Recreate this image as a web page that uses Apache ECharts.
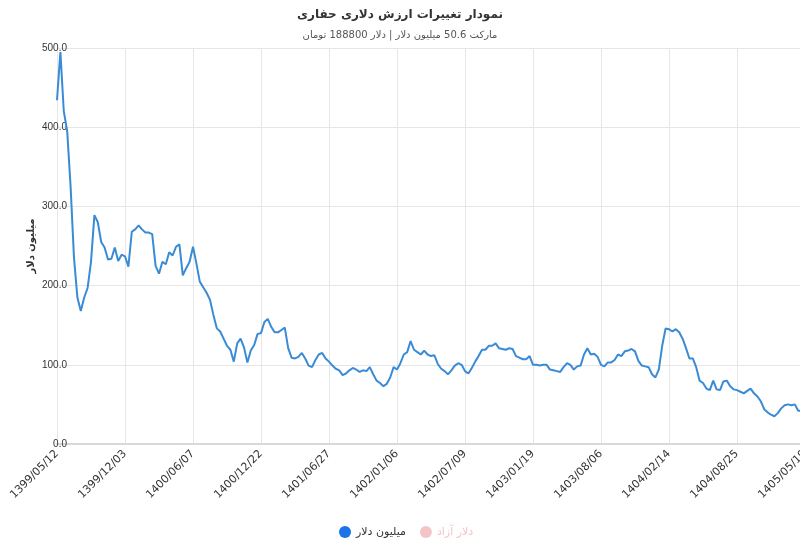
<!DOCTYPE html>
<html lang="fa">
<head>
    <meta charset="UTF-8">
    <title>نمودار تغییرات ارزش دلاری حفاری</title>
    <script src="https://cdn.jsdelivr.net/npm/echarts@6.0.0/dist/echarts.min.js"></script>
    <style>
        html, body { margin: 0; padding: 0; background: #fff; }
        #chart { width: 800px; height: 538px; }
    </style>
</head>
<body>
    <div id="chart"></div>
    <script>
        // برچسب‌های محور افقی (هر ۲۰ نقطه یک برچسب)
        const tickLabels = ['1399/05/12', '1399/12/03', '1400/06/07', '1400/12/22', '1401/06/27',
            '1402/01/06', '1402/07/09', '1403/01/19', '1403/08/06', '1404/02/14', '1404/08/25', '1405/05/19'];
        const pointsPerTick = 20;

        // ارزش دلاری (میلیون دلار)
        const dollarValue = [
            434, 495, 420, 395, 325, 235, 185, 168, 185, 197,
            230, 289, 280, 255, 248, 233, 234, 248, 231, 239,
            237, 224, 268, 271, 276, 271, 267, 267, 265, 225,
            215, 230, 227, 242, 238, 249, 252, 213, 222, 230,
            249, 228, 205, 198, 191, 182, 163, 146, 142, 133,
            124, 119, 104, 127, 133, 122, 103, 118, 125, 139,
            140, 154, 158, 148, 141, 141, 144, 147, 121, 109,
            108, 110, 115, 108, 99, 97, 106, 113, 115, 108,
            104, 99, 95, 93, 87, 89, 93, 96, 94, 91,
            93, 92, 97, 88, 80, 77, 73, 76, 84, 97,
            94, 102, 113, 116, 130, 119, 116, 113, 118, 113,
            111, 112, 101, 95, 92, 88, 93, 99, 102, 100,
            92, 89, 96, 104, 111, 119, 119, 124, 124, 127,
            121, 120, 119, 121, 120, 111, 109, 107, 107, 111,
            100, 100, 99, 100, 100, 94, 93, 92, 91, 97,
            102, 100, 94, 98, 99, 113, 121, 113, 114, 110,
            100, 98, 103, 103, 106, 113, 111, 117, 118, 120,
            117, 105, 99, 98, 97, 88, 84, 94, 124, 146,
            145, 142, 145, 141, 133, 121, 108, 108, 97, 80,
            77, 70, 68, 80, 69, 68, 79, 80, 73, 69,
            68, 66, 64, 67, 70, 64, 60, 54, 44, 40,
            37, 35, 39, 45, 49, 50, 49, 50, 42, 42,
            41
        ];
        // سری دلار آزاد (غیرفعال در راهنما)
        const freeDollar = [];

        const categories = dollarValue.map((v, i) =>
            i % pointsPerTick === 0 ? (tickLabels[i / pointsPerTick] || '') : '');

        const chart = echarts.init(document.getElementById('chart'));

        const option = {
            animation: false,
            textStyle: { fontFamily: 'DejaVu Sans' },
            title: {
                text: 'نمودار تغییرات ارزش دلاری حفاری',
                subtext: 'مارکت 50.6 میلیون دلار | دلار 188800 تومان',
                left: 'center',
                top: 4,
                itemGap: 9,
                textStyle: { fontSize: 12, fontWeight: 'bold', color: '#333' },
                subtextStyle: { fontSize: 10, color: '#555' }
            },
            legend: {
                data: ['میلیون دلار', 'دلار آزاد'],
                left: 334,
                top: 521,
                icon: 'circle',
                itemWidth: 12,
                itemHeight: 12,
                itemGap: 14,
                inactiveColor: '#f3c4c8',
                selected: { 'دلار آزاد': false },
                textStyle: { fontSize: 11, color: '#333' }
            },
            grid: { left: 57, right: -5, top: 48, bottom: 94, outerBoundsMode: 'none' },
            xAxis: {
                type: 'category',
                data: categories,
                boundaryGap: false,
                axisLine: { lineStyle: { color: '#d8d8d8', width: 2 } },
                axisTick: { show: false },
                axisLabel: {
                    interval: pointsPerTick - 1,
                    rotate: 45,
                    fontSize: 11,
                    color: '#333',
                    margin: 8
                },
                splitLine: {
                    show: true,
                    interval: pointsPerTick - 1,
                    lineStyle: { color: '#e6e6e6' }
                }
            },
            yAxis: {
                type: 'value',
                min: 0,
                max: 500,
                interval: 100,
                name: 'میلیون دلار',
                nameLocation: 'middle',
                nameGap: 21,
                nameMoveOverlap: false,
                nameTextStyle: { fontSize: 10, fontWeight: 'bold', color: '#333' },
                axisLine: { show: false },
                axisTick: { show: false },
                axisLabel: {
                    margin: -10,
                    fontSize: 10,
                    fontFamily: 'Liberation Sans',
                    color: '#333',
                    formatter: v => v.toFixed(1)
                },
                splitLine: { lineStyle: { color: '#e6e6e6' } }
            },
            series: [
                {
                    name: 'میلیون دلار',
                    type: 'line',
                    data: dollarValue,
                    showSymbol: false,
                    smooth: false,
                    lineStyle: { color: '#3a8bd6', width: 2 },
                    itemStyle: { color: '#1a73e8' }
                },
                {
                    name: 'دلار آزاد',
                    type: 'line',
                    data: freeDollar,
                    showSymbol: false,
                    itemStyle: { color: '#f08a93' }
                }
            ]
        };
        chart.setOption(option);
    </script>
</body>
</html>
